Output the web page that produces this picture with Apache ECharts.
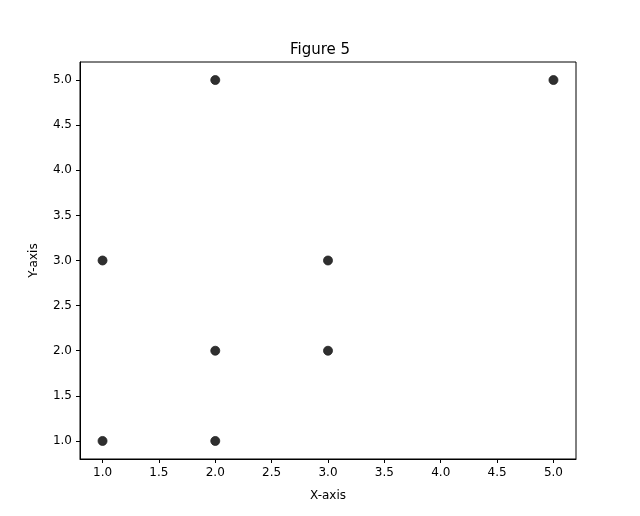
<!DOCTYPE html>
<html><head><meta charset="utf-8">
<script src="https://cdn.jsdelivr.net/npm/echarts@6/dist/echarts.min.js"></script>
<style>html,body{margin:0;padding:0;background:#fff}#c{width:640px;height:516px}</style>
</head><body><div id="c"></div>
<script>
const xValues = [1, 2, 2, 1, 2, 3, 3, 5];
const yValues = [1, 1, 2, 3, 5, 2, 3, 5];
const xTicks = [1.0, 1.5, 2.0, 2.5, 3.0, 3.5, 4.0, 4.5, 5.0];
const yTicks = [1.0, 1.5, 2.0, 2.5, 3.0, 3.5, 4.0, 4.5, 5.0];
const title = 'Figure 5';
const xName = 'X-axis';
const yName = 'Y-axis';

const font = 'DejaVu Sans';
const chart = echarts.init(document.getElementById('c'), null, {renderer: 'canvas'});
const axisCommon = {
  type: 'value',
  min: 0.8, max: 5.2,
  nameLocation: 'middle',
  nameTextStyle: {fontFamily: font, fontSize: 12, color: '#000'},
  axisLine: {show: true, onZero: false, lineStyle: {color: '#000', width: 1}},
  splitLine: {show: false},
};
chart.setOption({
  animation: false,
  backgroundColor: '#fff',
  title: {text: title, left: 'center', top: 38, textStyle: {fontFamily: font, fontSize: 15, fontWeight: 'normal', color: '#000'}},
  grid: {left: 80, right: 64, top: 62, bottom: 57, show: true, borderColor: '#000', borderWidth: 1, backgroundColor: 'transparent'},
  xAxis: Object.assign({}, axisCommon, {
    name: xName, nameGap: 31,
    axisTick: {show: true, inside: false, length: 4, lineStyle: {color: '#000'}, customValues: xTicks},
    axisLabel: {fontFamily: font, fontSize: 12, color: '#000', margin: 8, customValues: xTicks, formatter: v => v.toFixed(1)}
  }),
  yAxis: Object.assign({}, axisCommon, {
    name: yName, nameGap: 40, nameRotate: 90,
    axisTick: {show: true, inside: false, length: 4, lineStyle: {color: '#000'}, customValues: yTicks},
    axisLabel: {fontFamily: font, fontSize: 12, color: '#000', margin: 8, customValues: yTicks, formatter: v => v.toFixed(1)}
  }),
  series: [{
    type: 'scatter',
    symbolSize: 9,
    data: xValues.map((x, i) => [x, yValues[i]]),
    itemStyle: {color: '#2f2f2f', borderColor: '#222', borderWidth: 0.8, opacity: 1},
    emphasis: {disabled: true}
  }]
});
</script></body></html>
